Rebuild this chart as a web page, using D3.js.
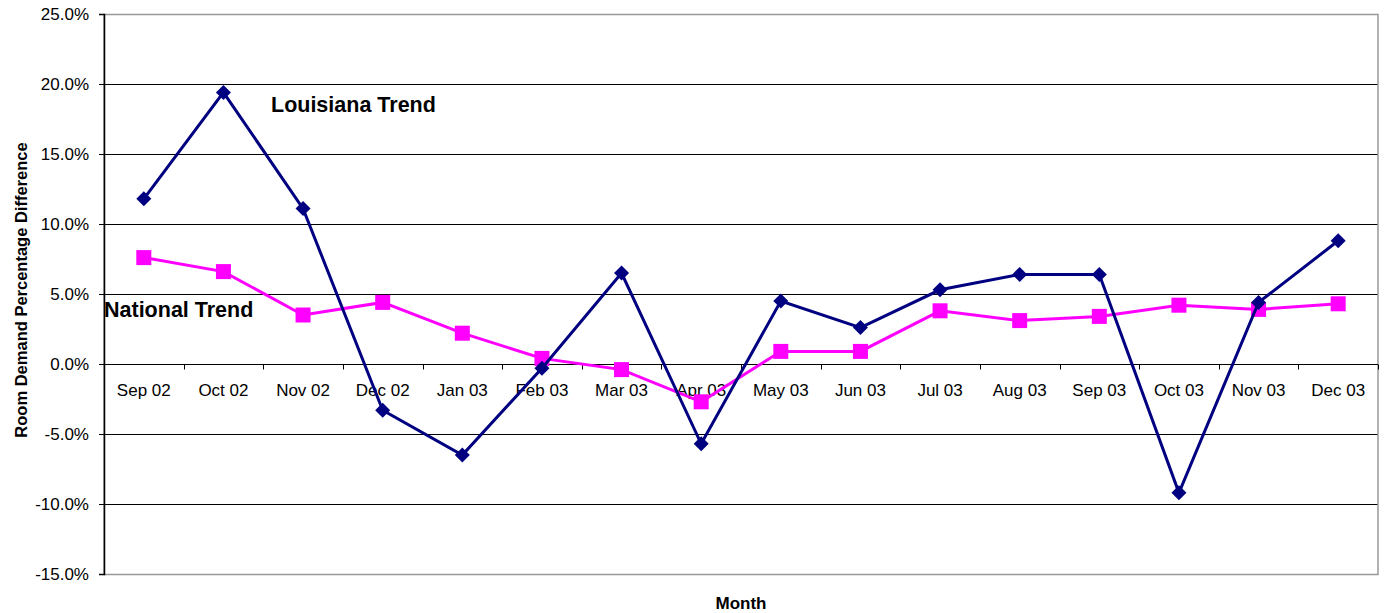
<!DOCTYPE html>
<html>
<head>
<meta charset="utf-8">
<script src="https://cdn.jsdelivr.net/npm/d3@7"></script>
<style>
  body { margin: 0; background: #fff; }
  svg { display: block; font-family: "Liberation Sans", Arial, sans-serif; }
</style>
</head>
<body>
<svg id="chart" width="1387" height="613"></svg>
<script>
// Monthly room demand change, Louisiana vs national
const months = ["Sep 02","Oct 02","Nov 02","Dec 02","Jan 03","Feb 03","Mar 03","Apr 03",
                "May 03","Jun 03","Jul 03","Aug 03","Sep 03","Oct 03","Nov 03","Dec 03"];
const louisiana = [11.8, 19.4, 11.1, -3.3, -6.5, -0.3, 6.5, -5.7, 4.5, 2.6, 5.3, 6.4, 6.4, -9.2, 4.4, 8.8];
const national  = [7.6, 6.6, 3.5, 4.4, 2.2, 0.4, -0.4, -2.7, 0.9, 0.9, 3.8, 3.1, 3.4, 4.2, 3.9, 4.3];
const yTicks = [-15, -10, -5, 0, 5, 10, 15, 20, 25];

const svg = d3.select("#chart");
const plotL = 104, plotR = 1378, plotT = 14, plotB = 574;

const x = d3.scaleBand().domain(months).range([plotL, plotR]);
const y = d3.scaleLinear().domain([-15, 25]).range([plotB, plotT]);
const crisp = v => Math.round(v) + 0.5;

// horizontal gridlines
svg.append("g").selectAll("line").data(yTicks.filter(d => d !== -15 && d !== 25)).join("line")
  .attr("x1", plotL).attr("x2", plotR)
  .attr("y1", d => crisp(y(d))).attr("y2", d => crisp(y(d)))
  .attr("stroke", "#000").attr("stroke-width", 1);

// plot area border
svg.append("rect").attr("x", plotL).attr("y", crisp(plotT))
  .attr("width", plotR - plotL).attr("height", plotB - plotT)
  .attr("fill", "none").attr("stroke", "#999").attr("stroke-width", 1.5);

// y axis
const yAxis = svg.append("g").attr("transform", `translate(${plotL},0)`)
  .call(d3.axisLeft(y).tickValues(yTicks).tickSize(5).tickPadding(10)
    .tickFormat(d => d.toFixed(1) + "%"));
yAxis.select(".domain").attr("stroke", "#000").attr("stroke-width", 1.5);
yAxis.selectAll(".tick line").attr("stroke", "#000");
yAxis.selectAll("text").attr("font-size", 17).attr("fill", "#000")
  .attr("font-family", "Liberation Sans, Arial, sans-serif");

// x axis along the zero line, ticks at category boundaries
const xg = svg.append("g").attr("transform", `translate(0,${crisp(y(0))})`);
xg.append("line").attr("x1", plotL).attr("x2", plotR).attr("stroke", "#000");
xg.selectAll("line.tk").data(months).join("line").attr("class", "tk")
  .attr("x1", d => crisp(x(d) + x.step())).attr("x2", d => crisp(x(d) + x.step()))
  .attr("y1", 0).attr("y2", 5).attr("stroke", "#000");
xg.selectAll("text").data(months).join("text")
  .attr("x", d => x(d) + x.bandwidth() / 2).attr("y", 31)
  .attr("text-anchor", "middle").attr("font-size", 17).attr("fill", "#000").text(d => d);

const cx = d => x(d) + x.bandwidth() / 2;

// national series
const nat = months.map((m, i) => [cx(m), y(national[i])]);
svg.append("path").attr("d", d3.line()(nat)).attr("fill", "none")
  .attr("stroke", "#FF00FF").attr("stroke-width", 3);
svg.append("g").selectAll("rect").data(nat).join("rect")
  .attr("x", d => d[0] - 7.5).attr("y", d => d[1] - 7.5).attr("width", 15).attr("height", 15)
  .attr("fill", "#FF00FF");

// louisiana series
const lou = months.map((m, i) => [cx(m), y(louisiana[i])]);
svg.append("path").attr("d", d3.line()(lou)).attr("fill", "none")
  .attr("stroke", "#000080").attr("stroke-width", 3);
svg.append("g").selectAll("path").data(lou).join("path")
  .attr("d", d => `M${d[0]},${d[1] - 7.5}L${d[0] + 7.5},${d[1]}L${d[0]},${d[1] + 7.5}L${d[0] - 7.5},${d[1]}Z`)
  .attr("fill", "#000080");

// series labels
svg.append("text").attr("x", 271).attr("y", 112).attr("font-size", 21.5).attr("font-weight", "bold")
  .text("Louisiana Trend");
svg.append("text").attr("x", 104).attr("y", 317).attr("font-size", 21.5).attr("font-weight", "bold")
  .text("National Trend");

// axis titles
svg.append("text").attr("transform", "translate(27,290) rotate(-90)").attr("text-anchor", "middle")
  .attr("font-size", 16.5).attr("font-weight", "bold").text("Room Demand Percentage Difference");
svg.append("text").attr("x", 741).attr("y", 609).attr("text-anchor", "middle")
  .attr("font-size", 17).attr("font-weight", "bold").text("Month");
</script>
</body>
</html>
